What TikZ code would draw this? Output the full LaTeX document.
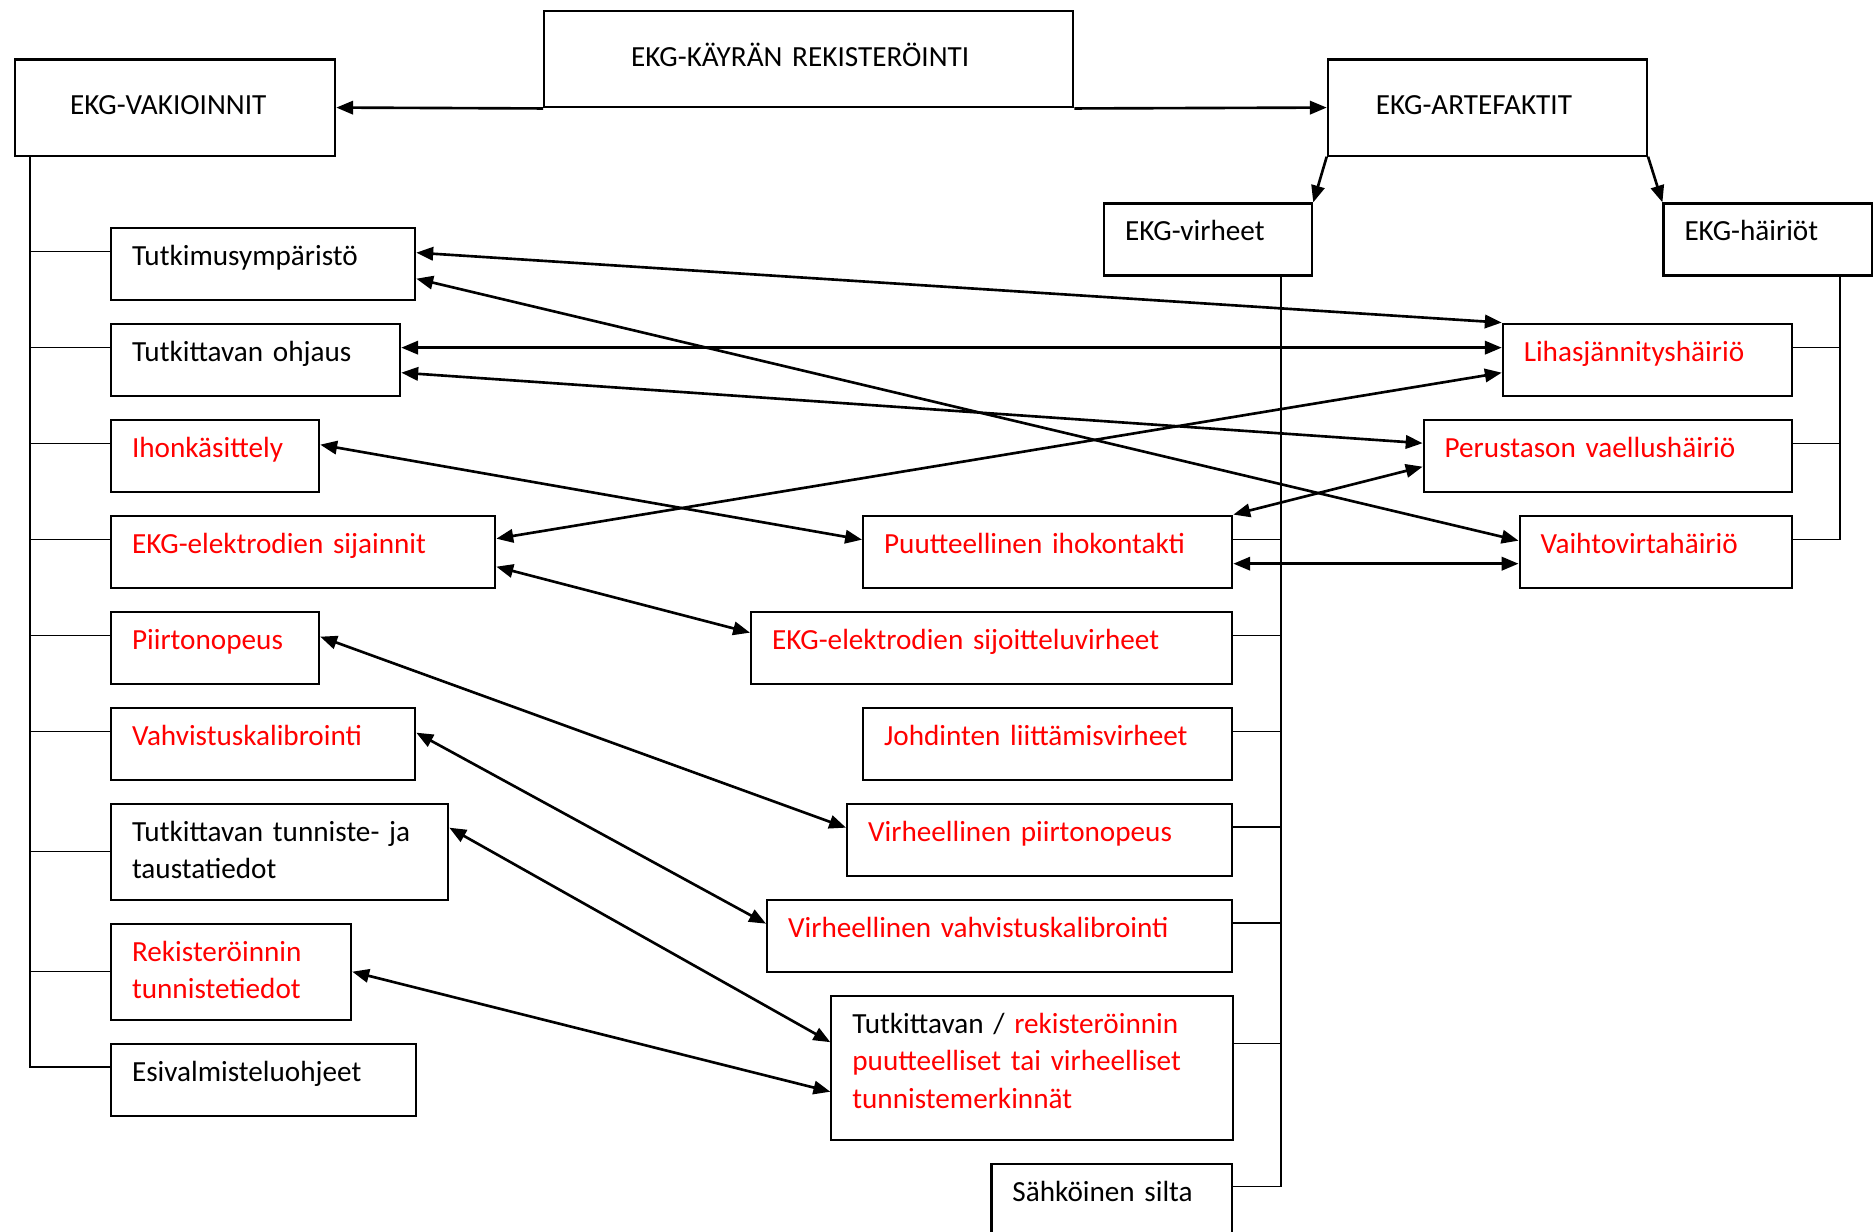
\documentclass[tikz,border=0pt]{standalone}
\usepackage{fontspec}
\setmainfont{Carlito}
\usetikzlibrary{arrows.meta}

\tikzset{
	box/.style={draw, line width=0.6pt, anchor=north west, align=left, inner xsep=2.1mm, inner ysep=0pt, text height=3.75mm, text depth=3.45mm, text width=#1-4.2mm},
	box2/.style={box=#1, text depth=5.85mm},
	box3/.style={box=#1, text depth=10.65mm},
	head/.style={draw, line width=0.6pt, anchor=north west, align=left, inner ysep=0pt, text height=5.5mm, text depth=4.1mm},
	trunk/.style={line width=0.45pt},
	arr/.style={-{Triangle[length=4.8pt,width=3.8pt]}, line width=0.75pt},
	link/.style={{Triangle[length=4.8pt,width=3.8pt]}-{Triangle[length=4.8pt,width=3.8pt]}, line width=0.75pt}
}

\begin{document}
\begin{tikzpicture}[x=0.01cm, y=-0.01cm, font=\fontsize{8.3}{10.7}\selectfont]
	\useasboundingbox (0,0) rectangle (1874,1231);

	\node[head, inner xsep=8.7mm, text width=35.5mm] (kayra) at (543,10.3) {EKG-KÄYRÄN REKISTERÖINTI};
	\node[head, inner xsep=5.5mm, text width=21mm] (vak) at (14,58.5) {EKG-VAKIOINNIT};
	\node[head, inner xsep=4.8mm, text width=22.3mm] (art) at (1326.7,58.5) {EKG-ARTEFAKTIT};

	\node[box=20.8mm] (virh) at (1103,202.4) {EKG-virheet};
	\node[box=20.8mm] (hair) at (1662.4,202.4) {EKG-häiriöt};

	\node[box=30.4mm] (tutkymp) at (110,226.6) {Tutkimusympäristö};
	\node[box=28.9mm] (ohjaus) at (110,322.6) {Tutkittavan ohjaus};
	\node[box=20.8mm, text=red] (ihon) at (110,418.6) {Ihonkäsittely};
	\node[box=38.4mm, text=red] (sijainnit) at (110,514.6) {EKG-elektrodien sijainnit};
	\node[box=20.8mm, text=red] (piirto) at (110,610.6) {Piirtonopeus};
	\node[box=30.4mm, text=red] (vahvist) at (110,706.6) {Vahvistuskalibrointi};
	\node[box2=33.7mm] (tausta) at (110,802.6) {Tutkittavan tunniste- ja\\taustatiedot};
	\node[box2=24mm, text=red] (rekist) at (110,922.6) {Rekisteröinnin\\tunnistetiedot};
	\node[box=30.5mm] (esival) at (110,1042.6) {Esivalmisteluohjeet};

	\node[box=28.9mm, text=red] (lihas) at (1501.7,322.6) {Lihasjännityshäiriö};
	\node[box=36.8mm, text=red] (perus) at (1422.6,418.6) {Perustason vaellushäiriö};
	\node[box=36.9mm, text=red] (puut) at (862,514.6) {Puutteellinen ihokontakti};
	\node[box=27.2mm, text=red] (vaihto) at (1518.5,514.6) {Vaihtovirtahäiriö};
	\node[box=48.1mm, text=red] (sijoit) at (750,610.6) {EKG-elektrodien sijoitteluvirheet};
	\node[box=36.9mm, text=red] (johd) at (862,706.6) {Johdinten liittämisvirheet};
	\node[box=38.5mm, text=red] (vpiirto) at (846,802.6) {Virheellinen piirtonopeus};
	\node[box=46.5mm, text=red] (vvahv) at (766,898.6) {Virheellinen vahvistuskalibrointi};
	\node[box3=40.1mm] (tunnmerk) at (830.3,994.6) {Tutkittavan / \textcolor{red}{rekisteröinnin}\\\textcolor{red}{puutteelliset tai virheelliset}\\\textcolor{red}{tunnistemerkinnät}};
	\node[box=24mm] (silta) at (990.4,1162.6) {Sähköinen silta};

	\foreach \n/\s in {tutkymp/1.2mm, ohjaus/1.2mm, ihon/1.2mm, sijainnit/1.2mm, piirto/1.2mm, vahvist/1.2mm, tausta/0mm, rekist/0mm, esival/1.25mm}
		\draw[trunk] ([xshift=1.6mm]vak.south west) |- ([yshift=\s]\n.west);
	\foreach \n/\s in {puut/1.2mm, sijoit/1.2mm, johd/1.2mm, vpiirto/1.25mm, vvahv/1.25mm, tunnmerk/2.4mm, silta/1.3mm}
		\draw[trunk] ([xshift=-3.2mm]virh.south east) |- ([yshift=\s]\n.east);
	\foreach \n in {lihas, perus, vaihto}
		\draw[trunk] ([xshift=-3.25mm]hair.south east) |- ([yshift=1.2mm]\n.east);

	\draw[arr] (kayra.south west) -- (vak.east);
	\draw[arr] (kayra.south east) -- (art.west);
	\draw[arr] (art.south west) -- (virh.north east);
	\draw[arr] (art.south east) -- (hair.north west);

	\draw[link] ([yshift=1.1mm]tutkymp.east) -- (lihas.north west);
	\draw[link] ([yshift=-1.5mm]tutkymp.east) -- ([yshift=1.1mm]vaihto.west);
	\draw[link] ([yshift=1.2mm]ohjaus.east) -- ([yshift=1.2mm]lihas.west);
	\draw[link] ([yshift=-1.3mm]ohjaus.east) -- ([yshift=1.25mm]perus.west);
	\draw[link] ([yshift=1.1mm]ihon.east) -- ([yshift=1.2mm]puut.west);
	\draw[link] ([yshift=1.3mm]sijainnit.east) -- ([yshift=-1.3mm]lihas.west);
	\draw[link] ([yshift=-1.5mm]sijainnit.east) -- ([yshift=1.5mm]sijoit.west);
	\draw[link] (puut.north east) -- ([yshift=-1.1mm]perus.west);
	\draw[link] ([yshift=-1.2mm]puut.east) -- ([yshift=-1.2mm]vaihto.west);
	\draw[link] ([yshift=1.1mm]piirto.east) -- ([yshift=1.2mm]vpiirto.west);
	\draw[link] ([yshift=1.1mm]vahvist.east) -- ([yshift=1.2mm]vvahv.west);
	\draw[link] ([yshift=2.4mm]tausta.east) -- ([yshift=2.55mm]tunnmerk.west);
	\draw[link] (rekist.east) -- ([yshift=-2.4mm]tunnmerk.west);
\end{tikzpicture}
\end{document}
